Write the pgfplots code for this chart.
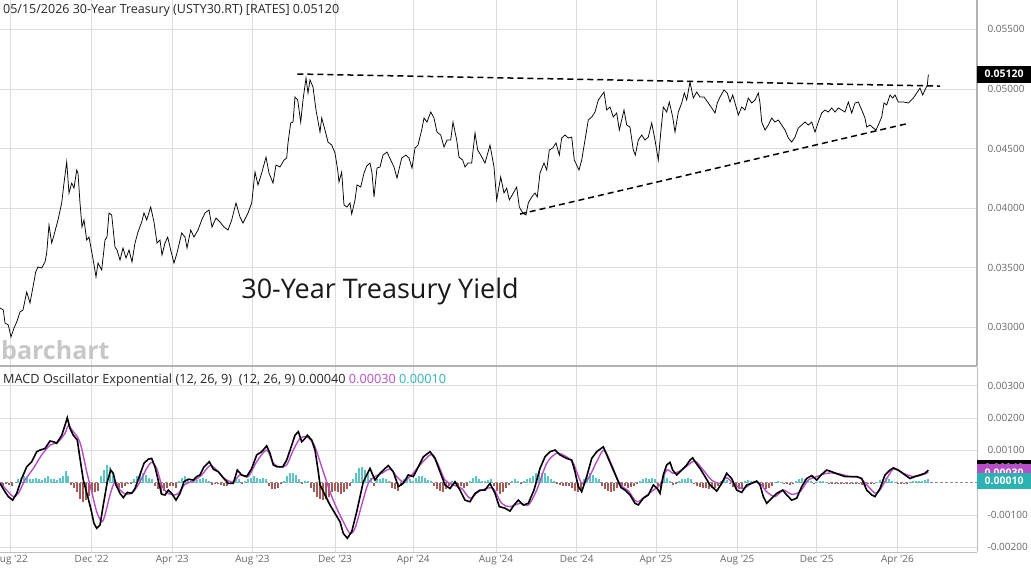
\documentclass[border=0pt]{standalone}
\usepackage{fontspec}
\setmainfont{Open Sans}
\usepackage{pgfplots}
\pgfplotsset{compat=1.18}
\definecolor{sig}{HTML}{B54FC6}
\definecolor{tealc}{HTML}{2BB3B3}
\definecolor{histpos}{HTML}{5CC4C4}
\definecolor{histneg}{HTML}{A45A56}
\definecolor{gridc}{HTML}{DDDDDD}
\definecolor{lab}{HTML}{666666}
\begin{document}
\begin{tikzpicture}
\useasboundingbox (0,0) rectangle (1031pt,-575pt);
\pgfplotsset{every axis/.append style={scale only axis, width=977pt, xmin=0, xmax=977,
  xtick={10.7,91.7,172.3,252.5,335,413.3,496,576.7,656,737.3,816.7,897.5},
  scaled y ticks=false, scaled x ticks=false,
  grid=major, major grid style={draw=gridc, line width=0.8pt},
  axis x line*=bottom, axis y line*=right,
  major tick length=0pt,
  yticklabel style={font=\fontsize{10}{12}\selectfont, text=lab, anchor=west, xshift=7pt},
  xticklabel style={font=\fontsize{10}{12}\selectfont, text=lab},
  clip=false}}
% ---------------- price panel
\begin{axis}[at={(0pt,0pt)}, anchor=north west, height=366pt,
  ymin=0.02676, ymax=0.05747,
  xticklabels={},
  ytick={0.03,0.035,0.04,0.045,0.05,0.055},
  yticklabels={0.03000,0.03500,0.04000,0.04500,0.05000,0.05500},
  axis line style={draw=black!30, line width=1.4pt, -}]
\addplot[black, line width=0.75pt] table {
0 0.03163
3.3 0.03146
5 0.03037
8.3 0.03020
11 0.02920
14 0.02995
16.7 0.03045
20 0.03129
23 0.03146
26.7 0.03297
30 0.03205
33 0.03339
35.7 0.03465
38 0.03507
41.7 0.03498
45 0.03549
46.7 0.03624
49 0.03859
51.7 0.03708
54 0.03775
58 0.03901
61.7 0.04044
64 0.04211
66.7 0.04388
69 0.04127
71.7 0.04211
74 0.04169
76.7 0.04320
78 0.04295
80 0.04044
82 0.03842
84 0.03901
86.7 0.03733
89 0.03758
92.7 0.03590
96 0.03423
98 0.03540
101.7 0.03481
105 0.03733
107 0.03758
109 0.03960
111.7 0.03943
115 0.03674
117 0.03649
120 0.03565
123 0.03666
126 0.03582
129 0.03649
132 0.03549
135 0.03708
138 0.03800
141.7 0.03884
144 0.03960
146.7 0.03901
150.7 0.04010
154 0.03884
157 0.03708
160 0.03733
162 0.03607
165 0.03708
167.7 0.03758
170.7 0.03649
174 0.03540
177 0.03624
181.7 0.03792
185 0.03758
187 0.03666
190.7 0.03817
194 0.03758
198 0.03817
201.7 0.03901
205 0.03960
209 0.03985
212 0.03842
216 0.03918
220 0.03884
224 0.03842
228 0.03817
231.7 0.03901
236 0.04044
240 0.03926
243 0.03876
248 0.03960
251.7 0.04044
255 0.04304
258 0.04195
261.7 0.04295
266 0.04429
269 0.04295
273 0.04211
276 0.04362
280 0.04346
284 0.04404
286.7 0.04421
288 0.04547
290.7 0.04715
293 0.04723
295 0.04933
297.7 0.04908
300.7 0.04723
303 0.04908
306 0.05092
308 0.04966
310 0.05076
313 0.05017
316 0.04824
320 0.04639
321.7 0.04757
325 0.04656
328 0.04555
331.7 0.04530
335 0.04463
337.7 0.04320
339 0.04220
341.7 0.04304
344 0.04027
347 0.04010
350 0.04044
351.7 0.03951
355 0.04069
357 0.04195
360.7 0.04178
364 0.04295
366.7 0.04354
370 0.04379
372 0.04295
374 0.04094
377 0.04337
380 0.04346
383 0.04446
387 0.04471
390.7 0.04404
394 0.04346
397 0.04253
401.7 0.04421
406 0.04446
409 0.04421
412 0.04337
415 0.04505
418 0.04530
421.7 0.04656
424 0.04757
427 0.04723
430.7 0.04807
434 0.04757
437 0.04639
440.7 0.04614
444 0.04513
447 0.04572
450.7 0.04572
453 0.04723
456.7 0.04572
459 0.04429
462.7 0.04404
465 0.04346
468 0.04379
471.7 0.04379
475 0.04631
477.7 0.04488
480.7 0.04446
485 0.04379
490 0.04530
494 0.04346
496.7 0.04069
500.7 0.04262
504 0.04127
506.7 0.04169
509.3 0.04069
513.3 0.04127
516.7 0.04178
519.3 0.04010
522.7 0.03960
526 0.03943
528.3 0.04044
531.7 0.04094
535 0.04127
537.3 0.04094
540 0.04295
544 0.04379
546.7 0.04320
549.3 0.04488
552.7 0.04505
556 0.04547
559.3 0.04446
561.7 0.04589
565 0.04614
568.3 0.04589
571.7 0.04597
574.3 0.04404
579 0.04320
581.7 0.04404
585 0.04572
588.3 0.04740
591.7 0.04765
595 0.04807
598.3 0.04908
604 0.04975
606.7 0.04824
610 0.04849
613.3 0.04765
616.7 0.04799
619.3 0.04656
621.7 0.04740
624 0.04824
626.7 0.04698
630 0.04681
633.3 0.04488
635.3 0.04446
638.3 0.04572
641.7 0.04614
645 0.04572
648.3 0.04597
651.7 0.04715
655 0.04572
658.3 0.04404
660.7 0.04631
663.3 0.04849
666.7 0.04807
669.3 0.04891
672.7 0.04765
675 0.04639
678.3 0.04807
681.7 0.04883
684.3 0.04966
686.7 0.04908
690 0.05059
693.3 0.04924
696.7 0.04975
700 0.04933
704 0.04933
708.3 0.04883
711.7 0.04841
715 0.04799
717.3 0.04883
720 0.04933
724 0.04992
727.3 0.04966
730 0.04891
732.7 0.04950
735 0.04883
738.3 0.04782
741.7 0.04849
745 0.04824
748.3 0.04924
751.7 0.04883
755 0.04908
758.3 0.04966
760 0.04883
761.7 0.04723
765 0.04656
768.3 0.04698
771.7 0.04757
775 0.04723
778.3 0.04740
781.7 0.04698
785 0.04656
788.3 0.04589
791.7 0.04555
795 0.04597
798.3 0.04673
801.7 0.04698
805 0.04723
808.3 0.04698
811.7 0.04723
815 0.04639
818.3 0.04723
821.7 0.04799
825 0.04824
828.3 0.04807
831.7 0.04841
835 0.04807
838.3 0.04841
841.7 0.04824
845 0.04807
848.3 0.04891
851.7 0.04799
855 0.04883
858.3 0.04891
861.7 0.04824
865 0.04757
866.7 0.04681
870 0.04698
873.3 0.04673
876 0.04656
878.3 0.04698
881.7 0.04765
884 0.04883
886.7 0.04866
890 0.04950
892.7 0.04924
895 0.04950
898.3 0.04891
903.3 0.04891
908.3 0.04883
913.3 0.04924
916.7 0.04966
920 0.05008
922.7 0.04950
925 0.04992
927.3 0.05034
928.3 0.05117
928.6 0.05120
};
\addplot[black, line width=1.5pt, dash pattern=on 6pt off 4pt] coordinates {(297.3,0.05126) (940,0.05025)};
\addplot[black, line width=1.5pt, dash pattern=on 6pt off 4pt] coordinates {(520,0.03951) (908.3,0.04712)};
\node[fill=black, text=white, font=\bfseries\fontsize{10.5}{12}\selectfont, anchor=west,
  minimum height=17pt, minimum width=54pt, inner sep=1pt] at (axis cs:977,0.05126) {0.05120};
\end{axis}
% ---------------- MACD panel
\begin{axis}[at={(0pt,-367pt)}, anchor=north west, height=185pt,
  ymin=-0.002146, ymax=0.003582,
  ytick={-0.002,-0.001,0.001,0.002,0.003},
  yticklabels={-0.00200,-0.00100,0.00100,0.00200,0.00300},
  xticklabels={Aug \textquotesingle 22, Dec \textquotesingle 22, Apr \textquotesingle 23, Aug \textquotesingle 23, Dec \textquotesingle 23, Apr \textquotesingle 24, Aug \textquotesingle 24, Dec \textquotesingle 24, Apr \textquotesingle 25, Aug \textquotesingle 25, Dec \textquotesingle 25, Apr \textquotesingle 26},
  axis line style={draw=black!25, line width=1pt, -}]
\addplot[black!45, line width=0.7pt, dash pattern=on 3pt off 2pt] coordinates {(0,0) (977,0)};
\addplot[ycomb, histneg, line width=1.6pt] coordinates {
(0,-0.05e-3) (3,-0.1e-3) (6,-0.05e-3) (9,-0.08e-3) (12,-0.1e-3)
(71,-0.08e-3) (74,-0.15e-3) (77,-0.3e-3) (80,-0.5e-3) (83,-0.6e-3) (86,-0.55e-3) (89,-0.4e-3) (92,-0.3e-3) (95,-0.3e-3) (98,-0.25e-3)
(116,-0.1e-3) (119,-0.2e-3) (122,-0.15e-3) (125,-0.1e-3) (128,-0.05e-3) (131,-0.05e-3)
(155,-0.1e-3) (158,-0.2e-3) (161,-0.35e-3) (164,-0.25e-3) (167,-0.15e-3) (170,-0.1e-3) (173,-0.1e-3) (176,-0.15e-3)
(212,-0.08e-3) (215,-0.05e-3) (218,-0.05e-3) (221,-0.08e-3) (224,-0.1e-3) (227,-0.1e-3) (230,-0.05e-3)
(242,-0.05e-3)
(269,-0.1e-3) (272,-0.2e-3) (275,-0.2e-3) (278,-0.15e-3) (281,-0.05e-3)
(302,-0.05e-3)
(311,-0.15e-3) (314,-0.3e-3) (317,-0.45e-3) (320,-0.5e-3) (323,-0.55e-3) (326,-0.5e-3) (329,-0.45e-3) (332,-0.3e-3) (335,-0.25e-3) (338,-0.3e-3) (341,-0.35e-3) (344,-0.3e-3) (347,-0.2e-3) (350,-0.1e-3)
(374,-0.1e-3)
(392,-0.15e-3) (395,-0.2e-3) (398,-0.25e-3) (401,-0.1e-3)
(434,-0.1e-3) (437,-0.2e-3) (440,-0.25e-3) (443,-0.3e-3) (446,-0.2e-3) (449,-0.1e-3) (455,-0.05e-3) (458,-0.15e-3) (461,-0.1e-3) (464,-0.15e-3) (467,-0.1e-3)
(494,-0.1e-3) (497,-0.25e-3) (500,-0.35e-3) (503,-0.3e-3) (506,-0.15e-3) (509,-0.08e-3) (521,-0.05e-3)
(557,-0.05e-3) (560,-0.08e-3) (563,-0.1e-3) (566,-0.1e-3) (569,-0.1e-3) (572,-0.15e-3) (575,-0.25e-3) (578,-0.3e-3) (581,-0.2e-3)
(602,-0.1e-3) (605,-0.2e-3) (608,-0.25e-3) (611,-0.3e-3) (614,-0.25e-3) (617,-0.15e-3) (620,-0.1e-3) (622,-0.1e-3) (625,-0.1e-3) (628,-0.15e-3) (631,-0.12e-3) (634,-0.1e-3) (637,-0.05e-3)
(658,-0.1e-3) (661,-0.15e-3) (673,-0.08e-3) (676,-0.05e-3)
(694,-0.05e-3) (697,-0.1e-3) (700,-0.12e-3) (703,-0.15e-3) (706,-0.15e-3) (709,-0.18e-3) (712,-0.15e-3) (715,-0.15e-3) (718,-0.1e-3)
(730,-0.03e-3) (733,-0.12e-3) (736,-0.18e-3) (739,-0.2e-3) (742,-0.15e-3)
(760,-0.05e-3) (763,-0.12e-3) (766,-0.2e-3) (769,-0.15e-3) (772,-0.1e-3)
(784,-0.05e-3) (787,-0.05e-3) (790,-0.08e-3) (793,-0.03e-3)
(814,-0.03e-3)
(829,-0.02e-3) (832,-0.03e-3) (835,-0.03e-3) (838,-0.05e-3) (841,-0.03e-3) (844,-0.02e-3) (847,-0.03e-3) (850,-0.02e-3) (853,-0.03e-3) (856,-0.02e-3) (859,-0.05e-3) (862,-0.08e-3) (865,-0.1e-3) (868,-0.05e-3) (871,-0.05e-3) (874,-0.05e-3)
(898,-0.03e-3) (901,-0.03e-3) (904,-0.03e-3) (907,-0.02e-3)
};
\addplot[ycomb, histpos, line width=1.6pt] coordinates {
(18,0.12e-3) (21,0.15e-3) (24,0.2e-3) (27,0.15e-3) (30,0.12e-3) (33,0.1e-3) (36,0.15e-3) (39,0.1e-3) (42,0.08e-3) (45,0.15e-3) (48,0.2e-3) (51,0.12e-3) (54,0.1e-3) (57,0.08e-3) (60,0.15e-3) (63,0.2e-3) (66,0.35e-3) (68,0.2e-3)
(101,0.2e-3) (104,0.4e-3) (107,0.55e-3) (110,0.5e-3) (113,0.3e-3)
(134,0.1e-3) (137,0.2e-3) (140,0.25e-3) (143,0.3e-3) (146,0.25e-3) (149,0.15e-3) (152,0.1e-3)
(179,0.05e-3) (182,0.15e-3) (185,0.2e-3) (188,0.1e-3) (191,0.05e-3) (194,0.1e-3) (197,0.08e-3) (200,0.1e-3) (203,0.15e-3) (206,0.12e-3) (209,0.05e-3)
(233,0.05e-3) (236,0.15e-3) (239,0.1e-3) (245,0.05e-3) (248,0.1e-3) (251,0.15e-3) (254,0.2e-3) (257,0.15e-3) (260,0.1e-3) (263,0.15e-3) (266,0.12e-3)
(284,0.05e-3) (287,0.2e-3) (290,0.3e-3) (293,0.3e-3) (296,0.25e-3) (299,0.1e-3) (305,0.05e-3) (308,0.05e-3)
(353,0.1e-3) (356,0.3e-3) (359,0.45e-3) (362,0.5e-3) (365,0.4e-3) (368,0.3e-3) (371,0.15e-3)
(377,0.1e-3) (380,0.1e-3) (383,0.15e-3) (386,0.1e-3) (389,0.05e-3)
(404,0.1e-3) (407,0.15e-3) (410,0.1e-3) (413,0.05e-3) (416,0.15e-3) (419,0.2e-3) (422,0.2e-3) (425,0.15e-3) (428,0.08e-3) (431,0.05e-3)
(452,0.05e-3)
(470,0.05e-3) (473,0.15e-3) (476,0.2e-3) (479,0.1e-3) (482,0.05e-3) (485,0.05e-3) (488,0.08e-3) (491,0.1e-3)
(512,0.05e-3) (515,0.1e-3) (518,0.05e-3) (524,0.05e-3)
(527,0.1e-3) (530,0.15e-3) (533,0.2e-3) (536,0.3e-3) (539,0.35e-3) (542,0.3e-3) (545,0.3e-3) (548,0.2e-3) (551,0.1e-3) (554,0.05e-3)
(584,0.1e-3) (587,0.25e-3) (590,0.3e-3) (593,0.25e-3) (596,0.15e-3) (599,0.1e-3)
(640,0.05e-3) (643,0.1e-3) (646,0.15e-3) (649,0.1e-3) (652,0.15e-3) (655,0.1e-3) (664,0.2e-3) (667,0.15e-3) (670,0.05e-3)
(679,0.05e-3) (682,0.1e-3) (685,0.12e-3) (688,0.15e-3) (691,0.1e-3)
(721,0.05e-3) (724,0.1e-3) (727,0.08e-3)
(745,0.05e-3) (748,0.08e-3) (751,0.05e-3) (754,0.05e-3) (757,0.03e-3)
(775,0.03e-3) (778,0.05e-3) (781,0.02e-3)
(796,0.05e-3) (799,0.12e-3) (802,0.15e-3) (805,0.1e-3) (808,0.05e-3) (811,0.05e-3) (817,0.03e-3) (820,0.05e-3) (823,0.05e-3) (826,0.03e-3)
(877,0.03e-3) (880,0.08e-3) (883,0.12e-3) (886,0.15e-3) (889,0.1e-3) (892,0.05e-3) (895,0.03e-3)
(910,0.02e-3) (913,0.05e-3) (916,0.06e-3) (919,0.05e-3) (922,0.05e-3) (925,0.08e-3) (928,0.1e-3)
};
\addplot[sig, line width=1.4pt, smooth] table {
0 0.01e-3
6.7 -0.23e-3
13.3 -0.43e-3
18.3 -0.33e-3
25 0.08e-3
33.3 0.44e-3
41.7 0.86e-3
50 1.16e-3
58.3 1.27e-3
65 1.53e-3
68.3 1.76e-3
73.3 1.58e-3
78.3 1.37e-3
81.7 1.06e-3
86.7 0.34e-3
91.7 -0.28e-3
96.7 -0.90e-3
101.7 -1.21e-3
105 -1.00e-3
110 -0.38e-3
115 0.03e-3
120 -0.23e-3
126.7 -0.36e-3
133.3 -0.28e-3
140 0.03e-3
146.7 0.44e-3
151.7 0.63e-3
156.7 0.44e-3
161.7 -0.07e-3
166.7 -0.30e-3
173.3 -0.38e-3
178.3 -0.33e-3
185 -0.05e-3
193.3 0.05e-3
201.7 0.24e-3
210 0.53e-3
216.7 0.39e-3
225 0.11e-3
233.3 0.03e-3
240 0.24e-3
248.3 0.19e-3
256.7 0.65e-3
266.7 1.01e-3
273.3 0.60e-3
280 0.49e-3
286.7 0.55e-3
293.3 1.01e-3
300 1.37e-3
306.7 1.42e-3
313.3 1.22e-3
316.7 0.96e-3
323.3 0.34e-3
330 -0.28e-3
336.7 -0.79e-3
343.3 -1.21e-3
350 -1.57e-3
355 -1.41e-3
361.7 -0.69e-3
368.3 -0.02e-3
375 0.19e-3
381.7 0.29e-3
390 0.42e-3
396.7 0.19e-3
403.3 0.03e-3
411.7 0.24e-3
420 0.55e-3
431.7 0.88e-3
438.3 0.55e-3
445 0.08e-3
453.3 -0.07e-3
461.7 -0.18e-3
470 -0.48e-3
478.3 -0.28e-3
486.7 -0.18e-3
493.3 -0.18e-3
501.7 -0.64e-3
510 -0.74e-3
520 -0.64e-3
528.3 -0.69e-3
536.7 -0.23e-3
546.7 0.60e-3
556.7 0.91e-3
566.7 0.80e-3
573.3 0.60e-3
581.7 -0.02e-3
588.3 0.13e-3
596.7 0.65e-3
604 1.01e-3
611.7 0.55e-3
620 -0.05e-3
628.3 -0.25e-3
636.7 -0.59e-3
645 -0.43e-3
653.3 -0.23e-3
660 -0.07e-3
666.7 0.39e-3
673.3 0.29e-3
681.7 0.39e-3
688.3 0.55e-3
695 0.67e-3
703.3 0.39e-3
711.7 0.08e-3
720 -0.02e-3
726.7 0.15e-3
735 -0.07e-3
743.3 -0.18e-3
753.3 0.01e-3
760 -0.02e-3
766.7 -0.28e-3
775 -0.43e-3
783.3 -0.23e-3
791.7 -0.36e-3
800 -0.28e-3
808.3 0.08e-3
816.7 0.19e-3
826.7 0.29e-3
836.7 0.29e-3
850 0.19e-3
860 0.15e-3
868.3 -0.12e-3
876.7 -0.33e-3
885 0.03e-3
893.3 0.42e-3
903.3 0.29e-3
913.3 0.19e-3
921.7 0.24e-3
928.3 0.32e-3
};
\addplot[black, line width=1.6pt] table {
0 -0.02e-3
5 -0.28e-3
8.3 -0.43e-3
12.7 -0.54e-3
16.7 -0.33e-3
21.7 0.13e-3
26.7 0.49e-3
31.7 0.65e-3
36.7 0.96e-3
40 1.01e-3
45 1.06e-3
50 1.29e-3
53.3 1.27e-3
56.7 1.22e-3
61.7 1.47e-3
65 1.78e-3
67.3 2.01e-3
70 1.68e-3
73.3 1.47e-3
77.3 1.32e-3
80 0.75e-3
83.3 0.08e-3
87.3 -0.38e-3
90.7 -0.79e-3
94 -1.26e-3
96.7 -1.41e-3
100 -1.31e-3
103.3 -0.69e-3
107.3 0.03e-3
110.7 0.39e-3
113.3 0.29e-3
116 -0.07e-3
120 -0.33e-3
123.3 -0.46e-3
127.3 -0.30e-3
131.7 -0.33e-3
135 -0.18e-3
139.3 0.19e-3
144 0.60e-3
148.3 0.73e-3
151.7 0.75e-3
155 0.49e-3
159.3 -0.07e-3
161.7 -0.36e-3
165 -0.38e-3
168.3 -0.23e-3
171.7 -0.33e-3
176 -0.54e-3
180 -0.33e-3
184 0.03e-3
188.3 0.11e-3
193.3 0.08e-3
196.7 0.19e-3
200 0.24e-3
204 0.49e-3
209.3 0.65e-3
213.3 0.42e-3
218.3 0.34e-3
223.3 0.15e-3
228.3 -0.02e-3
233.3 -0.02e-3
237.3 0.39e-3
241.7 0.24e-3
246.7 0.19e-3
251.7 0.44e-3
256.7 0.86e-3
261.7 0.96e-3
266.7 1.14e-3
270 0.91e-3
273.3 0.55e-3
277.3 0.49e-3
282.7 0.49e-3
286.7 0.70e-3
291.7 1.16e-3
295 1.47e-3
298.3 1.58e-3
301.7 1.27e-3
305 1.37e-3
307.3 1.47e-3
311.7 1.32e-3
315 1.01e-3
318.3 0.34e-3
320 -0.07e-3
325 -0.38e-3
330 -0.69e-3
335 -0.95e-3
340 -1.21e-3
343.3 -1.57e-3
347.3 -1.72e-3
351.7 -1.52e-3
356.7 -0.90e-3
363.3 0.03e-3
370 0.44e-3
375 0.08e-3
380 0.29e-3
385 0.44e-3
388.3 0.53e-3
393.3 0.34e-3
398.3 -0.12e-3
403.3 -0.02e-3
408.3 0.24e-3
413.3 0.19e-3
418.3 0.49e-3
423.3 0.80e-3
430 0.96e-3
435 0.75e-3
440 0.34e-3
445 -0.07e-3
450 -0.18e-3
455 0.03e-3
460 -0.23e-3
465 -0.54e-3
470 -0.59e-3
475 -0.33e-3
480 -0.23e-3
485 -0.23e-3
490 -0.02e-3
495 -0.33e-3
499.3 -0.74e-3
505 -0.79e-3
510 -0.88e-3
514 -0.69e-3
518.3 -0.54e-3
523.3 -0.69e-3
528.3 -0.64e-3
534 -0.23e-3
540 0.44e-3
545 0.80e-3
550 0.96e-3
555 1.01e-3
560 0.86e-3
566.7 0.75e-3
571.7 0.70e-3
575 0.34e-3
578.3 -0.12e-3
581.7 -0.28e-3
586.7 0.19e-3
591.7 0.75e-3
596.7 0.96e-3
603.3 1.11e-3
608.3 0.75e-3
613.3 0.39e-3
618.3 0.03e-3
621 -0.15e-3
625 -0.23e-3
630 -0.38e-3
635 -0.64e-3
638.3 -0.69e-3
643.3 -0.48e-3
648.3 -0.38e-3
653.3 -0.07e-3
657.3 -0.18e-3
660 -0.33e-3
663.3 0.24e-3
666.7 0.55e-3
670 0.63e-3
672.7 0.39e-3
676.7 0.24e-3
680 0.34e-3
683.3 0.44e-3
686.7 0.55e-3
690 0.70e-3
692.7 0.77e-3
695 0.65e-3
700 0.44e-3
705 0.19e-3
710 -0.07e-3
716.7 -0.26e-3
721.7 -0.02e-3
726.7 0.29e-3
731.7 0.13e-3
736.7 -0.23e-3
741.7 -0.30e-3
746.7 -0.07e-3
751.7 -0.02e-3
756.7 0.05e-3
760 -0.07e-3
763.3 -0.43e-3
766.7 -0.64e-3
771.7 -0.48e-3
776.7 -0.33e-3
782.7 -0.23e-3
786.7 -0.38e-3
791.7 -0.54e-3
796.7 -0.48e-3
801.7 -0.12e-3
806.7 0.13e-3
811.7 0.22e-3
816.7 0.08e-3
821.7 0.26e-3
826.7 0.39e-3
831.7 0.34e-3
838.3 0.26e-3
845 0.19e-3
851.7 0.19e-3
856.7 0.19e-3
861.7 0.13e-3
866.7 -0.23e-3
871.7 -0.38e-3
875 -0.43e-3
880 -0.18e-3
885 0.24e-3
890 0.39e-3
893.3 0.46e-3
898.3 0.39e-3
905 0.24e-3
910 0.13e-3
915 0.19e-3
920 0.24e-3
925 0.29e-3
928.3 0.39e-3
};
\node[fill=black, text=white, font=\bfseries\fontsize{10.5}{12}\selectfont, anchor=west,
  minimum height=16pt, minimum width=54pt, inner sep=1pt] at (axis cs:977,0.00045) {0.00040};
\node[fill=sig, text=white, font=\bfseries\fontsize{10.5}{12}\selectfont, anchor=west,
  minimum height=16pt, minimum width=54pt, inner sep=1pt] at (axis cs:977,0.00032) {0.00030};
\node[fill=tealc, text=white, font=\bfseries\fontsize{10.5}{12}\selectfont, anchor=west,
  minimum height=16pt, minimum width=54pt, inner sep=1pt] at (axis cs:977,0.00005) {0.00010};
\end{axis}
\node[anchor=west, font=\fontsize{12.5}{14}\selectfont, text=black!85, inner sep=0pt] at (3pt,-10pt) {05/15/2026 30-Year Treasury (USTY30.RT) [RATES] 0.05120};
\node[font=\fontsize{27}{30}\selectfont, text=black!90] at (380pt,-291pt) {30-Year Treasury Yield};
\node[anchor=west, font=\bfseries\fontsize{25}{28}\selectfont, text=black!22, inner sep=0pt] at (1pt,-350pt) {barchart};
\node[anchor=west, font=\fontsize{12.7}{14}\selectfont, text=black!85, inner sep=0pt] at (3pt,-380pt) {MACD Oscillator Exponential (12, 26, 9)\ \ (12, 26, 9) 0.00040 \textcolor{sig}{0.00030} \textcolor{tealc}{0.00010}};
\end{tikzpicture}
\end{document}
